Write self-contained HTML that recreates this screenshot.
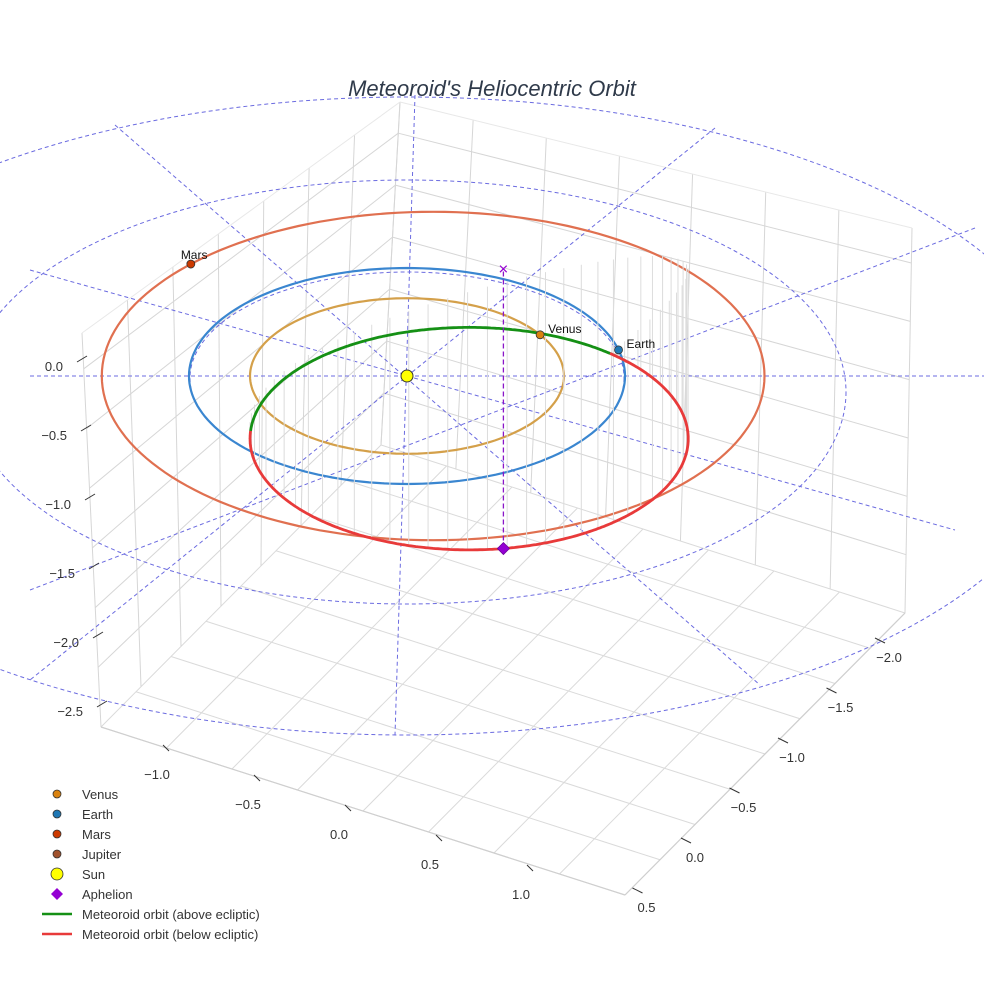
<!DOCTYPE html>
<html><head><meta charset="utf-8"><style>
body{margin:0;background:#fff;}
svg text{font-family:"Liberation Sans",sans-serif;}
</style></head><body>
<svg id="chart" width="984" height="984" viewBox="0 0 984 984" xmlns="http://www.w3.org/2000/svg">
<rect width="984" height="984" fill="#fff"/>
<g id="box"></g>
<g id="ecl"></g>
<g id="orbits"></g>
<g id="marks"></g>
<g id="axes"></g>
<text x="492" y="96" text-anchor="middle" font-size="22" font-style="italic" fill="#2f3a4a">Meteoroid's Heliocentric Orbit</text>
<g id="legend"></g>
</svg>
<script>
// ---- data ----
const planetNames = ["Venus","Earth","Mars"];
const planetRadii = [0.72, 1.0, 1.52];
const planetCenterX = [0.0, 0.0, 0.12];
const planetAngleDeg = [32, 14, 137];
const planetOrbitColors = ["#d4a04a","#3a86d0","#e07050"];
const planetDotColors = ["#d9820f","#1f77b4","#cc3a00"];
const meteorCenter = [0.285, -0.58];
const meteorSemi = [1.005, 1.03];
const nodeAnglesDeg = [50, 176];
const meteorDepth = 2.3;
const aphelionAngleDeg = -81;
const zTicks = [0.0,-0.5,-1.0,-1.5,-2.0,-2.5];
const xTicks = [-1.0,-0.5,0.0,0.5,1.0];
const yTicks = [-2.0,-1.5,-1.0,-0.5,0.0,0.5];
const legendLabels = ["Venus","Earth","Mars","Jupiter","Sun","Aphelion","Meteoroid orbit (above ecliptic)","Meteoroid orbit (below ecliptic)"];

// ---- projection ----
const CX=407, CY=376, SX=218, SY=108, SZ=124;
function px(X){return CX+SX*X;}
function py(Y,Z){return CY-SY*Y-SZ*(Z||0);}
const NS="http://www.w3.org/2000/svg";
function mk(tag,attrs,parent){const e=document.createElementNS(NS,tag);for(const k in attrs)e.setAttribute(k,attrs[k]);parent.appendChild(e);return e;}
const box=document.getElementById('box'),ecl=document.getElementById('ecl'),orb=document.getElementById('orbits'),marks=document.getElementById('marks'),axes=document.getElementById('axes'),leg=document.getElementById('legend');
function lerp(p,q,t){return [p[0]+(q[0]-p[0])*t,p[1]+(q[1]-p[1])*t];}
function line(p,q,st,w,par){return mk('line',{x1:p[0],y1:p[1],x2:q[0],y2:q[1],stroke:st,'stroke-width':w},par||box);}
function nm(el,n){}

// ---- box wireframe ----
const A=[101,727],C=[625,895],D=[905,613],B=[381,445];
const At=[82,333],Bt=[400,102],Dt=[912,228];
for(let i=0;i<=8;i++){const t=i/8;
  nm(line(lerp(A,B,t),lerp(C,D,t),'#dadada',1),'floor-grid-line');
  nm(line(lerp(A,C,t),lerp(B,D,t),'#dadada',1),'floor-grid-line');
}
for(let i=0;i<=7;i++){const t=i/7;
  nm(line(lerp(A,B,t),lerp(At,Bt,t),'#d6d6d6',1),'wall-grid-line');
  nm(line(lerp(B,D,t),lerp(Bt,Dt,t),'#d6d6d6',1),'wall-grid-line');
}
for(let j=1;j<=6;j++){const h=j/6.6;
  nm(line(lerp(A,At,h),lerp(B,Bt,h),'#d6d6d6',1),'wall-grid-line');
  nm(line(lerp(B,Bt,h),lerp(D,Dt,h),'#d6d6d6',1),'wall-grid-line');
}
nm(line(At,Bt,'#e8e8e8',1),'box-edge');nm(line(Bt,Dt,'#e8e8e8',1),'box-edge');
nm(line(A,C,'#cfcfcf',1.2),'box-edge');nm(line(C,D,'#cfcfcf',1.2),'box-edge');

// ---- ecliptic rings & radial lines (scene guides) ----
[[407,378,217,106],[407,392,439,212],[407,416,670,319]].forEach(r=>{const e=mk('ellipse',{cx:r[0],cy:r[1],rx:r[2],ry:r[3],fill:'none',stroke:'#6b6be0','stroke-width':1,'stroke-dasharray':'4,3'},ecl);nm(e,'ecliptic-ring');});
[[30,376,984,376],[415,95,395,735],[115,125,760,685],[715,128,30,680],[30,270,955,530],[30,590,975,228]].forEach(s=>{const l=mk('line',{x1:s[0],y1:s[1],x2:s[2],y2:s[3],stroke:'#6b6be0','stroke-width':1,'stroke-dasharray':'4,3'},ecl);nm(l,'ecliptic-radial-line');});

// ---- planet orbits ----
planetRadii.forEach((r,i)=>{let d='';for(let k=0;k<=180;k++){const t=k/180*2*Math.PI;d+=(k?'L':'M')+px(planetCenterX[i]+r*Math.cos(t)).toFixed(1)+','+py(r*Math.sin(t)).toFixed(1);}
  const p=mk('path',{d:d,fill:'none',stroke:planetOrbitColors[i],'stroke-width':2.2},orb);
  });

// ---- meteoroid orbit ----
const n1=nodeAnglesDeg[0]*Math.PI/180,n2=nodeAnglesDeg[1]*Math.PI/180;
function mpt(t){t=((t%(2*Math.PI))+2*Math.PI)%(2*Math.PI);
  const X=meteorCenter[0]+meteorSemi[0]*Math.cos(t),Y=meteorCenter[1]+meteorSemi[1]*Math.sin(t);
  const above=(t>n1&&t<n2);
  const frac=above?(t-n1)/(n2-n1):(((t-n2)+2*Math.PI)%(2*Math.PI))/(2*Math.PI-(n2-n1));
  return {X,Y,above,depth:Math.sin(Math.PI*frac)};}
let dG='';
for(let k=0;k<=180;k++){const t=n1+k/180*(n2-n1);const p=mpt(t);dG+=(k?'L':'M')+px(p.X).toFixed(1)+','+py(p.Y).toFixed(1);}
let parts=[];const span=2*Math.PI-(n2-n1);
for(let k=0;k<=360;k++){const t=n2+k/360*span;const p=mpt(t);parts.push(px(p.X).toFixed(1)+','+py(p.Y).toFixed(1));
  if(k%8==0&&k>0&&k<360){const l=mk('line',{x1:px(p.X),y1:py(p.Y),x2:px(p.X),y2:py(p.Y)-SZ*meteorDepth*p.depth*0.95,stroke:'#dcdcdc','stroke-width':1},orb);nm(l,'drop-line');}
}
let pe=mk('path',{d:'M'+parts.join('L'),fill:'none',stroke:'#e83a3a','stroke-width':2.8},orb);nm(pe,'meteoroid-orbit-below');
pe=mk('path',{d:dG,fill:'none',stroke:'#159015','stroke-width':2.8},orb);nm(pe,'meteoroid-orbit-above');

// ---- aphelion ----
const at=aphelionAngleDeg*Math.PI/180;const ap=mpt(at);const ax=px(ap.X),ay=py(ap.Y);
const atop=ay-SZ*meteorDepth*ap.depth;
let al=mk('line',{x1:ax,y1:ay,x2:ax,y2:atop,stroke:'#8a16c8','stroke-width':1.3,'stroke-dasharray':'5,3'},marks);nm(al,'aphelion-drop-line');
let am=mk('path',{d:`M${ax},${ay-6}L${ax+6},${ay}L${ax},${ay+6}L${ax-6},${ay}Z`,fill:'#9400d3',stroke:'#6a0099','stroke-width':0.8},marks);
let ax2=mk('text',{x:ax,y:atop+6,'text-anchor':'middle','font-size':17,fill:'#9400d3'},marks);ax2.textContent='×';nm(ax2,'aphelion-projection-marker');

// ---- planets ----
planetNames.forEach((n,i)=>{const t=planetAngleDeg[i]*Math.PI/180;const x=px(planetCenterX[i]+planetRadii[i]*Math.cos(t)),y=py(planetRadii[i]*Math.sin(t));
  const c=mk('circle',{cx:x,cy:y,r:4,fill:planetDotColors[i],stroke:'#333','stroke-width':0.8},marks);
  const tx=mk('text',{x:n=='Mars'?x-10:x+8,y:n=='Mars'?y-5:y-2,'font-size':12,fill:'#111'},marks);tx.textContent=n;nm(tx,n.toLowerCase()+'-label');});
let sun=mk('circle',{cx:CX,cy:CY,r:6,fill:'#ffff00',stroke:'#333','stroke-width':1},marks);

// ---- axis ticks ----
zTicks.forEach((v,i)=>{const y=366+i*69,x=53+i*4;const t=mk('text',{x:x+10,y:y+5,'text-anchor':'end','font-size':13,fill:'#333'},axes);t.textContent=(v<0?'\u2212':'')+Math.abs(v).toFixed(1);
  nm(t,'z-tick-label');line([x+24,y-4],[x+34,y-10],'#333',1,axes);});
xTicks.forEach((v,i)=>{const x=157+i*91,y=779+i*30;const t=mk('text',{x:x,y:y,'text-anchor':'middle','font-size':13,fill:'#333'},axes);t.textContent=(v<0?'\u2212':'')+Math.abs(v).toFixed(1);
  nm(t,'x-tick-label');line([x+6,y-34],[x+12,y-28],'#333',1,axes);});
yTicks.forEach((v,i)=>{const x=889-i*48.5,y=662+i*50;const t=mk('text',{x:x,y:y,'text-anchor':'middle','font-size':13,fill:'#333'},axes);t.textContent=(v<0?'\u2212':'')+Math.abs(v).toFixed(1);
  nm(t,'y-tick-label');line([x-14,y-24],[x-4,y-19],'#333',1,axes);});

// ---- legend ----
const legColors=["#d9820f","#1f77b4","#cc3a00","#a0522d","#ffff00","#9400d3","#159015","#e83a3a"];
legendLabels.forEach((lb,i)=>{const y=794+i*20;const g=mk('g',{},leg);
  if(i<5)mk('circle',{cx:57,cy:y,r:i==4?6:4,fill:legColors[i],stroke:'#333','stroke-width':0.8},g);
  else if(i==5)mk('path',{d:`M57,${y-6}L63,${y}L57,${y+6}L51,${y}Z`,fill:legColors[i]},g);
  else mk('line',{x1:42,y1:y,x2:72,y2:y,stroke:legColors[i],'stroke-width':2.5},g);
  const t=mk('text',{x:82,y:y+5,'font-size':13,fill:'#333'},g);t.textContent=lb;});
</script>
</body></html>
